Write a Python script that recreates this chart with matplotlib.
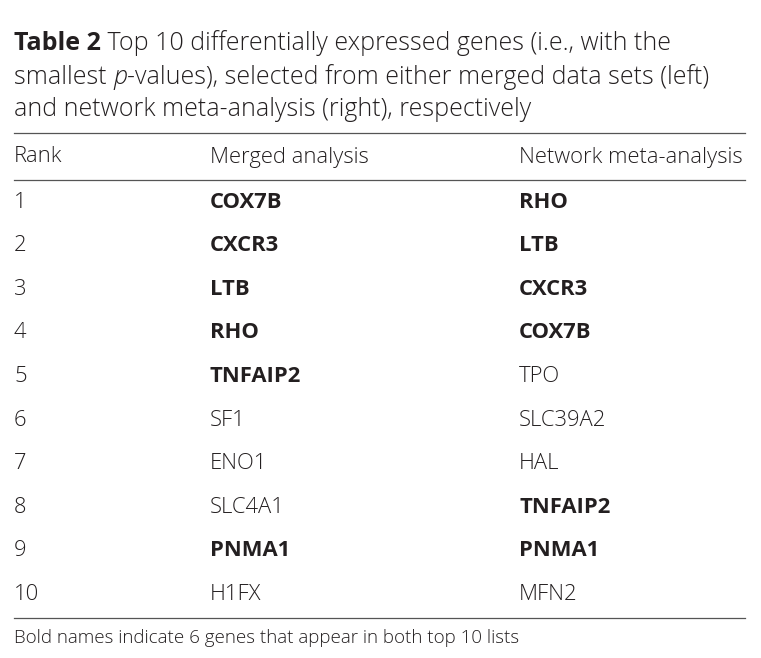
import matplotlib
matplotlib.use("Agg")
import matplotlib.pyplot as plt

ranks = list(range(1, 11))
merged = ["COX7B", "CXCR3", "LTB", "RHO", "TNFAIP2", "SF1", "ENO1", "SLC4A1", "PNMA1", "H1FX"]
network = ["RHO", "LTB", "CXCR3", "COX7B", "TPO", "SLC39A2", "HAL", "TNFAIP2", "PNMA1", "MFN2"]
headers = ["Rank", "Merged analysis", "Network meta-analysis"]
common = set(merged) & set(network)

W, H = 761, 658
fig = plt.figure(figsize=(W / 100, H / 100), dpi=100)
ax = fig.add_axes([0, 0, 1, 1])
ax.set_xlim(0, W)
ax.set_ylim(H, 0)
ax.axis("off")

FONT = ["Open Sans", "DejaVu Sans"]
col = "#231f20"
renderer = fig.canvas.get_renderer()


def run(x, y, parts, size):
    # place a sequence of (text, weight, style) pieces one after another
    for s, w, st in parts:
        t = ax.text(x, y, s, fontsize=size, fontweight=w, fontstyle=st,
                    family=FONT, color=col, va="center", ha="left")
        bb = t.get_window_extent(renderer)
        x += bb.width


run(14, 43, [("Table 2", "bold", "normal"),
             (" Top 10 differentially expressed genes (i.e., with the", "light", "normal")], 18)
run(14, 77, [("smallest ", "light", "normal"), ("p", "light", "italic"),
             ("-values), selected from either merged data sets (left)", "light", "normal")], 18)
run(14, 110, [("and network meta-analysis (right), respectively", "light", "normal")], 18)

for yy in (133, 180, 618):
    ax.plot([14, 745], [yy, yy], color="#555555", lw=0.9)

xs = [14, 210, 519]
BODY = 15.8
for x, h in zip(xs, headers):
    ax.text(x, 157, h, fontsize=BODY, family=FONT, fontweight="light", color=col, va="center")

row_y0, row_dy = 202, 43.6
for i, (r, m, n) in enumerate(zip(ranks, merged, network)):
    y = row_y0 + i * row_dy
    ax.text(xs[0], y, str(r), fontsize=BODY, family=FONT, fontweight="light", color=col, va="center")
    for x, g in ((xs[1], m), (xs[2], n)):
        ax.text(x, y, g, fontsize=BODY, family=FONT,
                fontweight="bold" if g in common else "light", color=col, va="center")

ax.text(14, 638, "Bold names indicate 6 genes that appear in both top 10 lists",
        fontsize=13.5, family=FONT, fontweight="light", color=col, va="center")

fig.savefig("out.png", dpi=100)
